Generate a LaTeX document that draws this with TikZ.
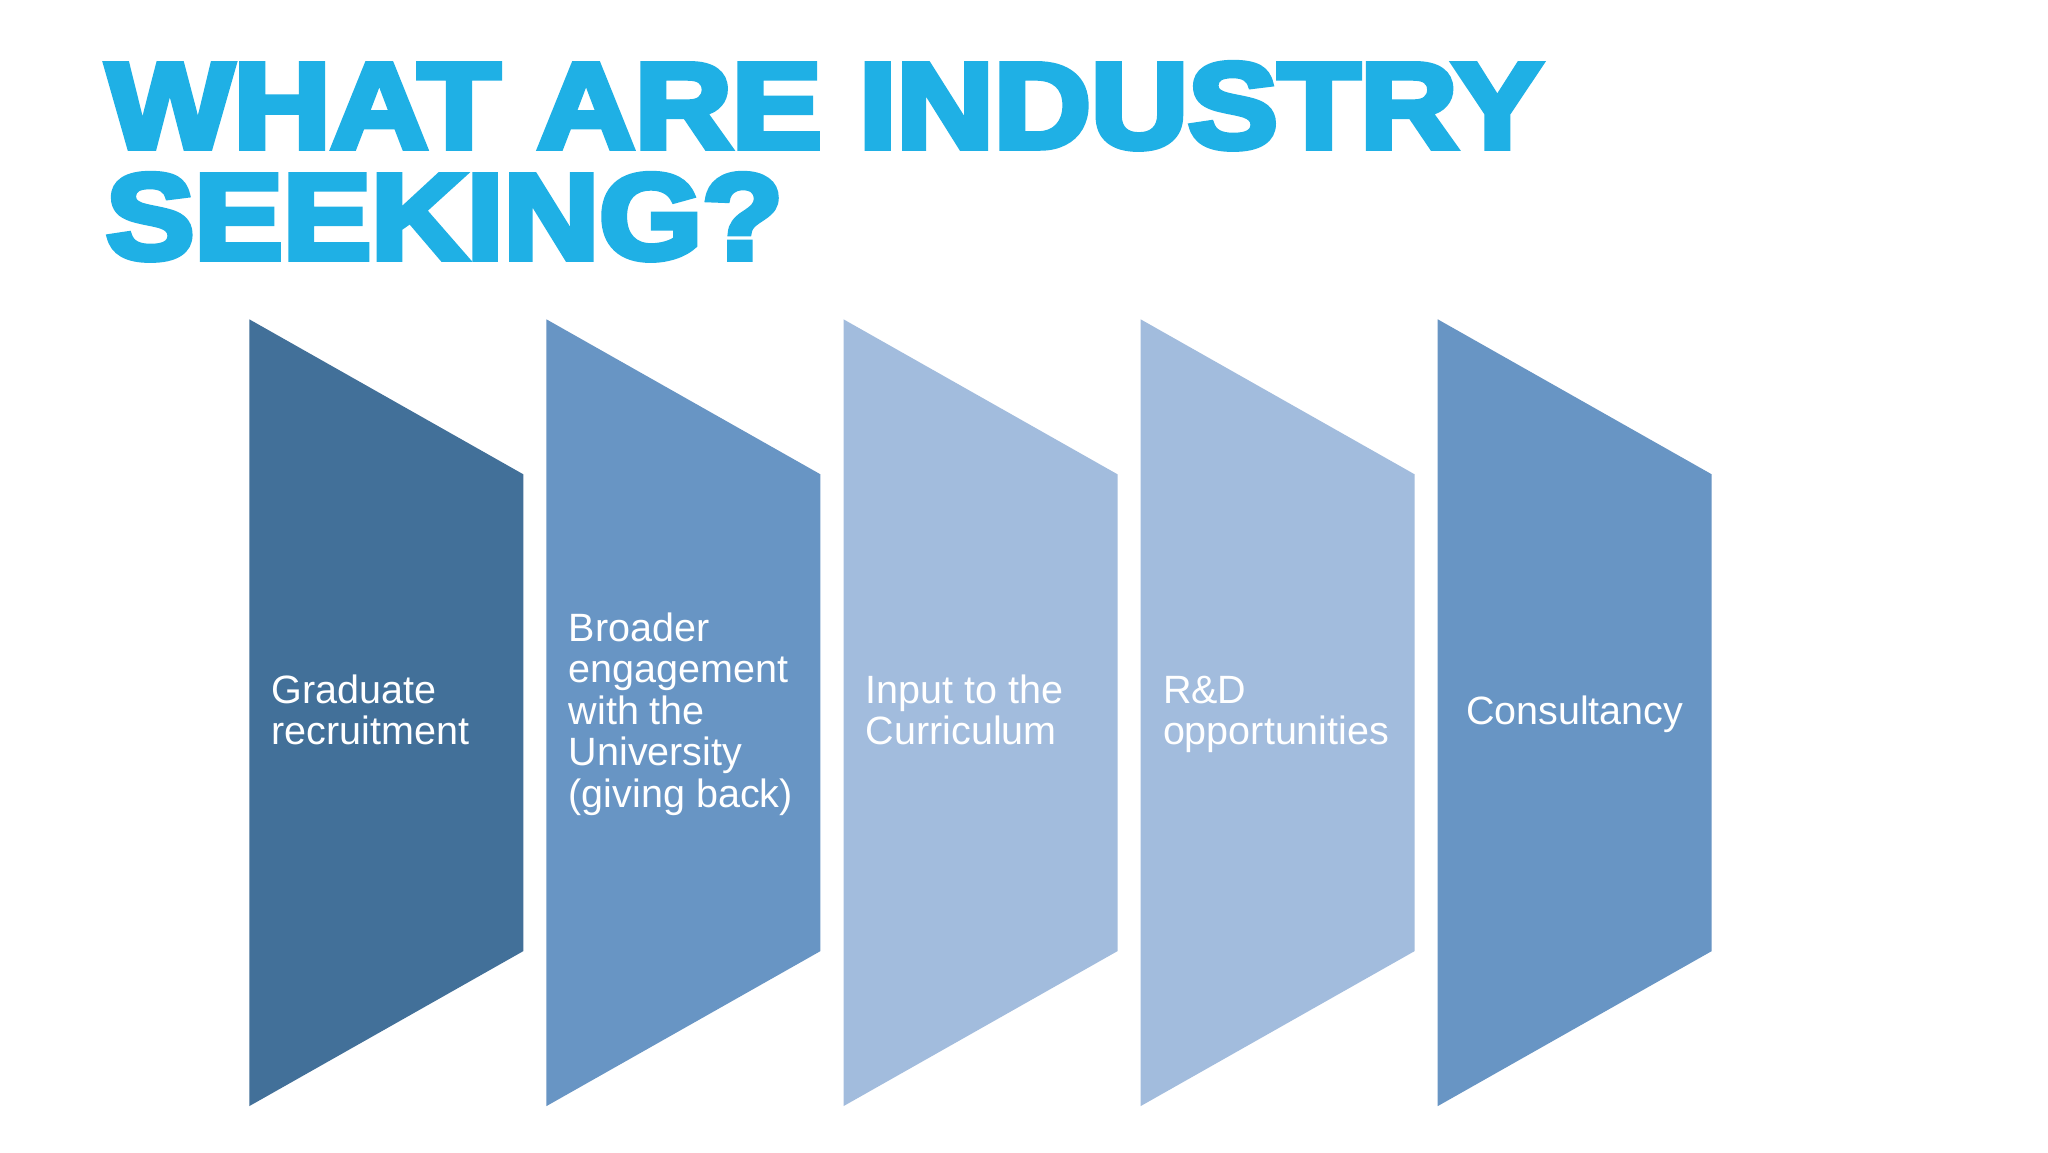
\documentclass[tikz,border=0pt]{standalone}
\usepackage{fontspec}
\setmainfont{Liberation Sans}
\newfontfamily\titlefont{Liberation Sans}[BoldFeatures={FakeBold=5}]
\definecolor{titleblue}{RGB}{31,176,229}
\definecolor{darkblue}{RGB}{66,112,153}
\definecolor{midblue}{RGB}{104,149,196}
\definecolor{lightblue}{RGB}{162,188,221}
\newcommand\ls{\rule[-4.7pt]{0pt}{20.7pt}}
\begin{document}
\begin{tikzpicture}[x=0.5pt,y=-0.5pt,
  titletext/.style={anchor=base west, inner sep=0, text=titleblue,
    font=\titlefont\bfseries\fontsize{60.75pt}{64pt}\selectfont},
  lbl/.style={anchor=west, align=left, inner sep=0, text=white,
    font=\fontsize{19.75pt}{20.75pt}\selectfont}]
\useasboundingbox[fill=white] (0,0) rectangle (2048,1152);
% title
\node[titletext] (t1) at (106,147.7) {\scalebox{1.108}[1]{WHAT ARE INDUSTRY}};
\node[titletext] (t2) at (105.7,258.7) {\scalebox{1.09}[1]{SEEKING?}};
% panels
\foreach \xl/\col in {249.3/darkblue, 546.4/midblue, 843.5/lightblue, 1140.6/lightblue, 1437.7/midblue}{
  \fill[\col] (\xl,319.3) -- ++(274,155) -- ++(0,476.8) -- ++(-274,155) -- cycle;
}
% labels
\node[lbl] (l1) at (271.3,712.7) {\ls Graduate\\\ls recruitment};
\node[lbl] (l2) at (568.4,712.7) {\ls Broader\\\ls engagement\\\ls with the\\\ls University\\\ls (giving back)};
\node[lbl] (l3) at (865.5,712.7) {\ls Input to the\\\ls Curriculum};
\node[lbl] (l4) at (1162.6,712.7) {\ls R\&D\\\ls opportunities};
\node[lbl, anchor=center] (l5) at (1574.7,712.7) {\ls Consultancy};
\end{tikzpicture}
\end{document}
